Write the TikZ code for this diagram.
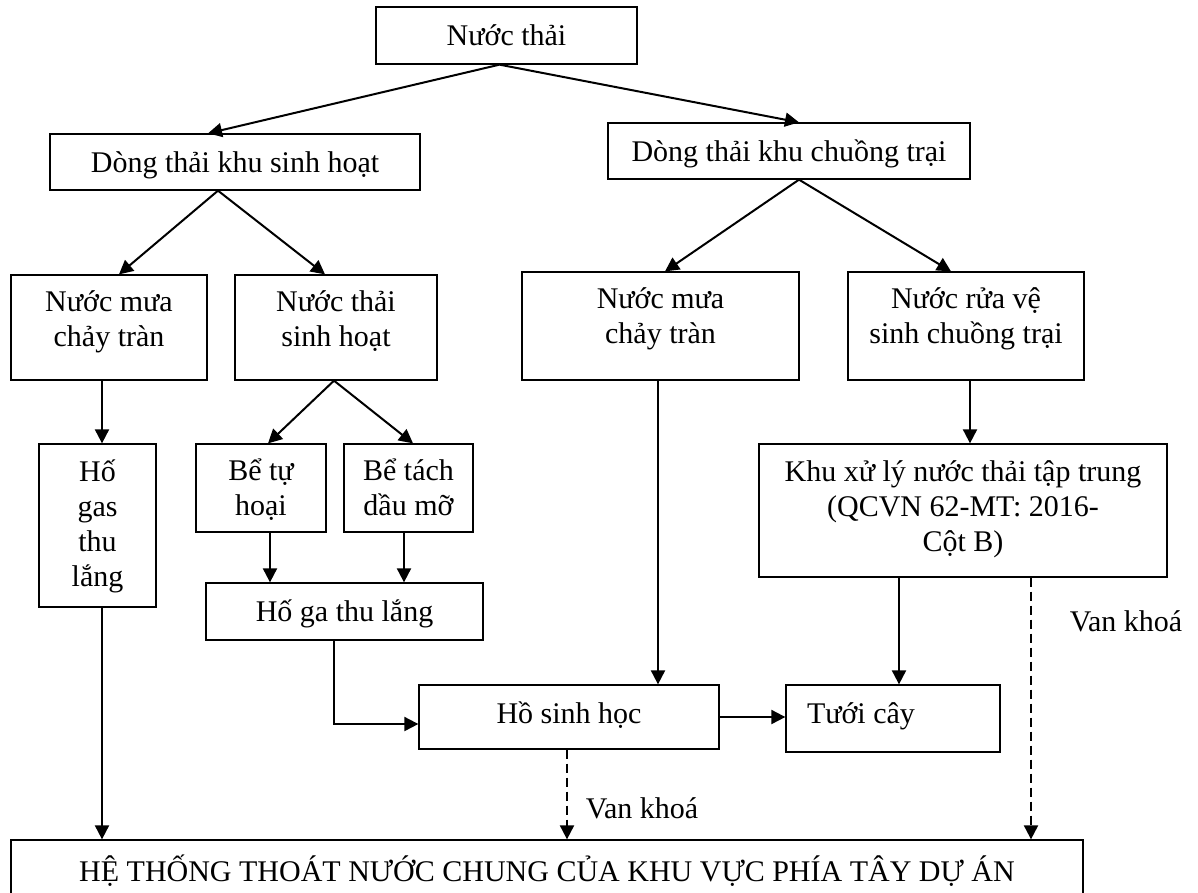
\documentclass[tikz,border=0pt]{standalone}
\usepackage{fontspec}
\setmainfont{Liberation Serif}
\usetikzlibrary{arrows.meta,calc}
\newcommand{\boxtxt}[2]{\raisebox{#1}[\height][\depth]{\begin{tabular}{@{}c@{}}#2\end{tabular}}}
\begin{document}
\begin{tikzpicture}[x=1pt,y=-1pt,
  every node/.style={font=\fontsize{30}{35}\selectfont},
  box/.style={draw, line width=1.3pt, inner sep=0pt},
  arr/.style={line width=2pt, -{Triangle[length=14pt,width=14pt]}},
  dasharr/.style={arr, dash pattern=on 9pt off 5pt}]
\useasboundingbox (0,0) rectangle (1198,892);

\node[box, minimum width=261pt, minimum height=57pt] (nt) at (506.5,35.5) {\boxtxt{-3pt}{Nước thải}};
\node[box, minimum width=370pt, minimum height=56pt] (sh) at (235,162) {\boxtxt{-3pt}{Dòng thải khu sinh hoạt}};
\node[box, minimum width=362pt, minimum height=56pt] (ct) at (789,151) {\boxtxt{-3pt}{Dòng thải khu chuồng trại}};
\node[box, minimum width=196pt, minimum height=105pt] (m1) at (109,327.5) {\boxtxt{6pt}{Nước mưa\\chảy tràn}};
\node[box, minimum width=202pt, minimum height=105pt] (tsh) at (336,327.5) {\boxtxt{6pt}{Nước thải\\sinh hoạt}};
\node[box, minimum width=277pt, minimum height=108pt] (m2) at (660.5,326) {\boxtxt{7.5pt}{Nước mưa\\chảy tràn}};
\node[box, minimum width=236pt, minimum height=108pt] (vs) at (966,326) {\boxtxt{7.5pt}{Nước rửa vệ\\sinh chuồng trại}};
\node[box, minimum width=117pt, minimum height=163pt] (hg) at (97.5,525.5) {\boxtxt{-1.5pt}{Hố\\gas\\thu\\lắng}};
\node[box, minimum width=130pt, minimum height=88pt] (tu) at (261,488) {\boxtxt{-3pt}{Bể tự\\hoại}};
\node[box, minimum width=129pt, minimum height=88pt] (td) at (408.5,488) {\boxtxt{-3pt}{Bể tách\\dầu mỡ}};
\node[box, minimum width=408pt, minimum height=133pt] (xl) at (963,510.5) {\boxtxt{1pt}{Khu xử lý nước thải tập trung\\(QCVN 62-MT: 2016-\\Cột B)}};
\node[box, minimum width=277pt, minimum height=57pt] (hgl) at (344.5,611.5) {\boxtxt{-3pt}{Hố ga thu lắng}};
\node[box, minimum width=300pt, minimum height=64pt] (hsh) at (569,717) {\boxtxt{1pt}{Hồ sinh học}};
\node[box, minimum width=214pt, minimum height=67pt] (tc) at (893,718.5) {\makebox[172pt][l]{\boxtxt{2.5pt}{Tưới cây}}};
\node[box, minimum width=1072pt, minimum height=64pt] (bot) at (547,872) {\boxtxt{-1pt}{HỆ THỐNG THOÁT NƯỚC CHUNG CỦA KHU VỰC PHÍA TÂY DỰ ÁN}};
\node[inner sep=0pt] (v1) at (642,808) {\boxtxt{-3pt}{Van khoá}};
\node[inner sep=0pt] (v2) at (1126,621) {\boxtxt{-3pt}{Van khoá}};

\draw[arr] ([xshift=-7pt]nt.south) -- ([xshift=-27pt]sh.north);
\draw[arr] ([xshift=-7pt]nt.south) -- ([xshift=10pt]ct.north);
\draw[arr] ([xshift=-17pt]sh.south) -- ([xshift=10pt]m1.north);
\draw[arr] ([xshift=-17pt]sh.south) -- ([xshift=-11pt]tsh.north);
\draw[arr] ([xshift=10pt]ct.south) -- ([xshift=4.5pt]m2.north);
\draw[arr] ([xshift=10pt]ct.south) -- ([xshift=-15pt]vs.north);
\draw[arr] ([xshift=-7pt]m1.south) -- ([xshift=-7pt]m1.south |- hg.north);
\draw[arr] ([xshift=-2pt]tsh.south) -- ([xshift=7pt]tu.north);
\draw[arr] ([xshift=-2pt]tsh.south) -- ([xshift=4.5pt]td.north);
\draw[arr] ([xshift=9pt]tu.south) -- ([xshift=9pt]tu.south |- hgl.north);
\draw[arr] ([xshift=-4.5pt]td.south) -- ([xshift=-4.5pt]td.south |- hgl.north);
\draw[arr] ([xshift=4pt]vs.south) -- ([xshift=4pt]vs.south |- xl.north);
\draw[arr] ([xshift=4.5pt]hg.south) -- ([xshift=4.5pt]hg.south |- bot.north);
\draw[arr] ([xshift=-10.5pt]hgl.south) |- ([yshift=-7pt]hsh.west);
\draw[arr] ([xshift=-2.5pt]m2.south) -- ([xshift=-2.5pt]m2.south |- hsh.north);
\draw[arr] ([xshift=-64pt]xl.south) -- ([xshift=-64pt]xl.south |- tc.north);
\draw[arr] (hsh.east) -- (hsh.east -| tc.west);
\draw[dasharr] ([xshift=-2pt]hsh.south) -- ([xshift=-2pt]hsh.south |- bot.north);
\draw[dasharr] ([xshift=68pt]xl.south) -- ([xshift=68pt]xl.south |- bot.north);
\end{tikzpicture}
\end{document}
